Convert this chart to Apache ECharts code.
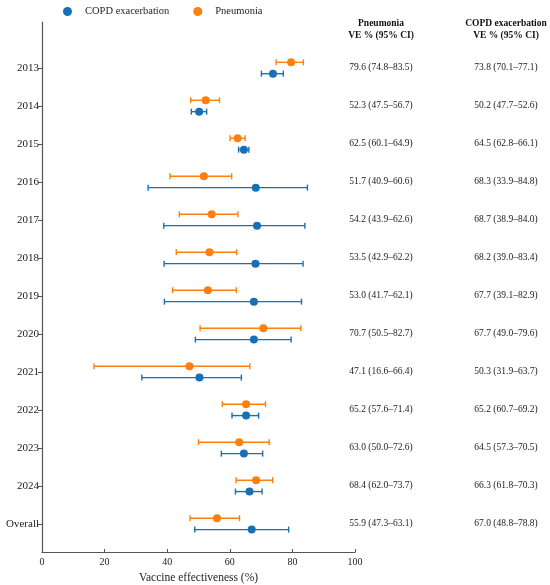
<!DOCTYPE html>
<html lang="en">
<head>
<meta charset="UTF-8">
<title>Vaccine effectiveness</title>
<script src="https://cdn.jsdelivr.net/npm/echarts@6.0.0/dist/echarts.min.js"></script>
<style>
    html, body { margin: 0; padding: 0; background: #fff; }
    #main { width: 550px; height: 585px; }
</style>
</head>
<body>
<div id="main"></div>
<script type="text/javascript">
    var categories = ['2013', '2014', '2015', '2016', '2017', '2018', '2019', '2020', '2021', '2022', '2023', '2024', 'Overall'];

    var pneuVE   = [79.6, 52.3, 62.5, 51.7, 54.2, 53.5, 53.0, 70.7, 47.1, 65.2, 63.0, 68.4, 55.9];
    var pneuLow  = [74.8, 47.5, 60.1, 40.9, 43.9, 42.9, 41.7, 50.5, 16.6, 57.6, 50.0, 62.0, 47.3];
    var pneuHigh = [83.5, 56.7, 64.9, 60.6, 62.6, 62.2, 62.1, 82.7, 66.4, 71.4, 72.6, 73.7, 63.1];

    var copdVE   = [73.8, 50.2, 64.5, 68.3, 68.7, 68.2, 67.7, 67.7, 50.3, 65.2, 64.5, 66.3, 67.0];
    var copdLow  = [70.1, 47.7, 62.8, 33.9, 38.9, 39.0, 39.1, 49.0, 31.9, 60.7, 57.3, 61.8, 48.8];
    var copdHigh = [77.1, 52.6, 66.1, 84.8, 84.0, 83.4, 82.9, 79.6, 63.7, 69.2, 70.5, 70.3, 78.8];

    var xTicks = [0, 20, 40, 60, 80, 100];

    var blue = '#1670b8';
    var orange = '#ff7f0e';
    var serif = '"Liberation Serif", "DejaVu Serif", serif';
    var shift = 0.15;   // vertical split between the two outcomes in a row

    var rowIdx = categories.map(function (c, i) { return i; });

    function ciText(ve, lo, hi, i) {
        return ve[i].toFixed(1) + ' (' + lo[i].toFixed(1) + '\u2013' + hi[i].toFixed(1) + ')';
    }

    function points(ve, dy) {
        return ve.map(function (v, i) { return [v, i + dy]; });
    }
    function bars(lo, hi, dy) {
        return lo.map(function (v, i) { return [v, hi[i], i + dy]; });
    }

    function errorBar(color) {
        return function (params, api) {
            var y = api.value(2);
            var a = api.coord([api.value(0), y]);
            var b = api.coord([api.value(1), y]);
            var h = 3;
            var st = { stroke: color, lineWidth: 1.4 };
            return {
                type: 'group',
                children: [
                    { type: 'line', shape: { x1: a[0], y1: a[1], x2: b[0], y2: b[1] }, style: st },
                    { type: 'line', shape: { x1: a[0], y1: a[1] - h, x2: a[0], y2: a[1] + h }, style: st },
                    { type: 'line', shape: { x1: b[0], y1: b[1] - h, x2: b[0], y2: b[1] + h }, style: st }
                ]
            };
        };
    }

    var yBase = {
        type: 'value',
        inverse: true,
        min: -1.21,
        max: 12.74,
        splitLine: { show: false }
    };

    var myChart = echarts.init(document.getElementById('main'));
    var option = {
        animation: false,
        textStyle: { fontFamily: serif },
        legend: {
            top: 1,
            left: 58,
            itemWidth: 9,
            itemHeight: 9,
            itemGap: 24,
            textStyle: { fontFamily: serif, fontSize: 10.5, color: '#222', padding: [0, 0, 0, 8] },
            data: [
                { name: 'COPD exacerbation', icon: 'circle', itemStyle: { color: blue } },
                { name: 'Pneumonia', icon: 'circle', itemStyle: { color: orange } }
            ]
        },
        grid: { left: 42, right: 195, top: 22, bottom: 33, outerBoundsMode: 'none', containLabel: false },
        xAxis: {
            type: 'value',
            min: 0,
            max: 100,
            interval: 20,
            name: 'Vaccine effectiveness (%)',
            nameLocation: 'middle',
            nameGap: 19,
            nameTextStyle: { fontFamily: serif, fontSize: 11.5, color: '#222' },
            axisLine: { onZero: false, lineStyle: { color: '#555', width: 1.2 } },
            axisTick: { inside: true, length: 3, lineStyle: { color: '#555' } },
            axisLabel: { fontFamily: serif, fontSize: 10, color: '#222', margin: 5 },
            splitLine: { show: false }
        },
        yAxis: [
            Object.assign({}, yBase, {
                axisLine: { show: true, onZero: false, lineStyle: { color: '#555', width: 1.2 } },
                axisTick: { show: true, length: 4, customValues: rowIdx, lineStyle: { color: '#555' } },
                axisLabel: {
                    customValues: rowIdx,
                    margin: 3,
                    fontFamily: serif, fontSize: 11, color: '#222',
                    formatter: function (v) { return categories[v]; }
                }
            }),
            Object.assign({}, yBase, {
                position: 'right',
                axisLine: { show: false },
                axisTick: { show: false },
                axisLabel: {
                    customValues: rowIdx,
                    margin: 26,
                    align: 'center',
                    fontFamily: serif, fontSize: 9.5, color: '#222',
                    formatter: function (v) { return ciText(pneuVE, pneuLow, pneuHigh, v); }
                }
            }),
            Object.assign({}, yBase, {
                position: 'right',
                axisLine: { show: false },
                axisTick: { show: false },
                axisLabel: {
                    customValues: rowIdx,
                    margin: 151,
                    align: 'center',
                    fontFamily: serif, fontSize: 9.5, color: '#222',
                    formatter: function (v) { return ciText(copdVE, copdLow, copdHigh, v); }
                }
            })
        ],
        graphic: [
            {
                type: 'text', x: 381, y: 18,
                style: { text: 'Pneumonia\nVE % (95% CI)', textAlign: 'center', fill: '#111',
                         font: 'bold 9.5px ' + serif, lineHeight: 12 }
            },
            {
                type: 'text', x: 506, y: 18,
                style: { text: 'COPD exacerbation\nVE % (95% CI)', textAlign: 'center', fill: '#111',
                         font: 'bold 9.5px ' + serif, lineHeight: 12 }
            }
        ],
        series: [
            {
                name: 'COPD exacerbation',
                type: 'scatter',
                symbol: 'circle',
                symbolSize: 8,
                itemStyle: { color: blue, opacity: 1 },
                z: 3,
                data: points(copdVE, shift)
            },
            {
                name: 'Pneumonia',
                type: 'scatter',
                symbol: 'circle',
                symbolSize: 8,
                itemStyle: { color: orange, opacity: 1 },
                z: 3,
                data: points(pneuVE, -shift)
            },
            {
                name: 'COPD exacerbation',
                type: 'custom',
                renderItem: errorBar(blue),
                encode: { x: [0, 1], y: 2 },
                z: 2,
                data: bars(copdLow, copdHigh, shift)
            },
            {
                name: 'Pneumonia',
                type: 'custom',
                renderItem: errorBar(orange),
                encode: { x: [0, 1], y: 2 },
                z: 2,
                data: bars(pneuLow, pneuHigh, -shift)
            }
        ]
    };
    myChart.setOption(option);
</script>
</body>
</html>
